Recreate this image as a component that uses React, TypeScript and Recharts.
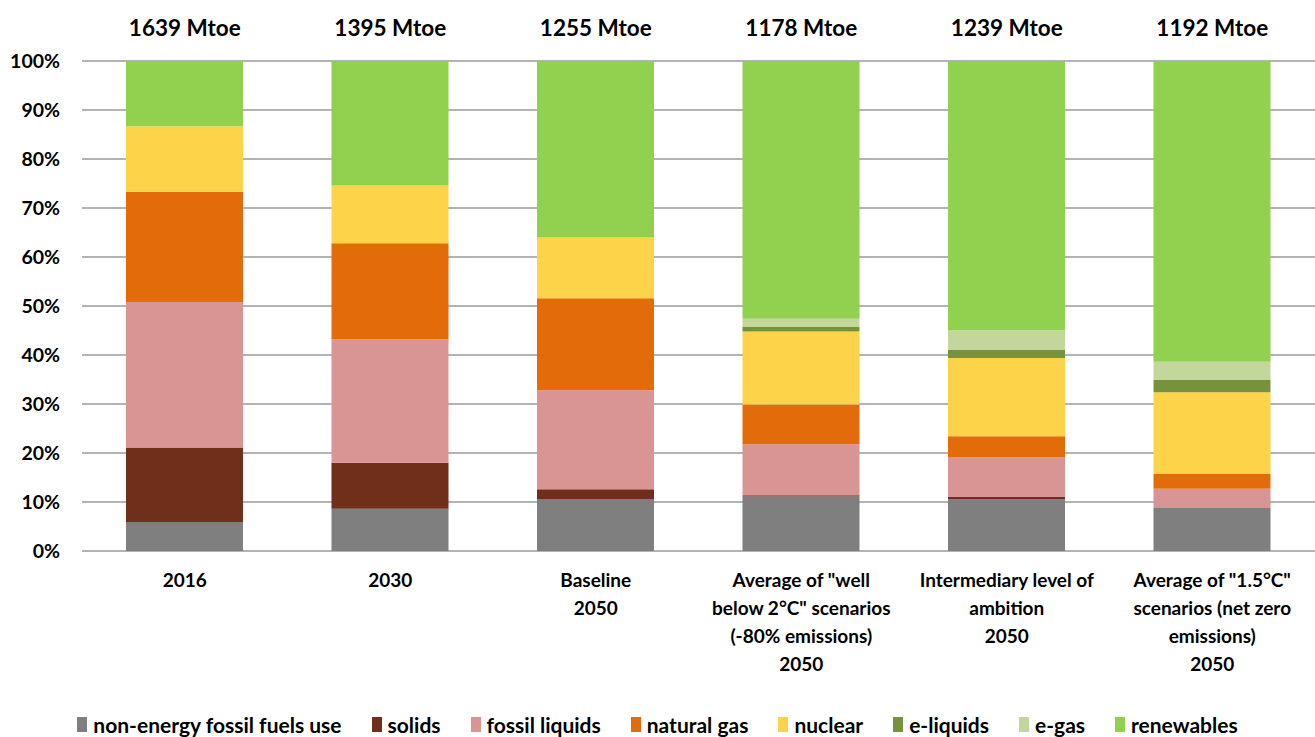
import { BarChart, Bar, XAxis, YAxis, CartesianGrid, Legend } from 'recharts';

const categories = [
  '2016',
  '2030',
  'Baseline\n2050',
  'Average of "well\nbelow 2°C" scenarios\n(-80% emissions)\n2050',
  'Intermediary level of\nambition\n2050',
  'Average of "1.5°C"\nscenarios (net zero\nemissions)\n2050',
];
const totals = [1639, 1395, 1255, 1178, 1239, 1192];

const nonEnergy = [5.9, 8.6, 10.6, 11.1, 10.6, 8.8];
const solids = [15.2, 9.4, 2.0, 0.3, 0.4, 0];
const fossilLiquids = [29.7, 25.2, 20.2, 10.4, 8.1, 3.9];
const naturalGas = [22.5, 19.6, 18.8, 8.1, 4.3, 3.0];
const nuclear = [13.4, 11.8, 12.4, 14.9, 16.0, 16.7];
const eLiquids = [0, 0, 0, 0.9, 1.6, 2.5];
const eGas = [0, 0, 0, 1.7, 4.1, 3.7];
const renewables = [13.3, 25.4, 36.0, 52.6, 54.9, 61.4];

const yTicks = [0, 10, 20, 30, 40, 50, 60, 70, 80, 90, 100];

const series = [
  { key: 'nonEnergy', name: 'non-energy fossil fuels use', color: '#7f7f7f' },
  { key: 'solids', name: 'solids', color: '#6f2f1a' },
  { key: 'fossilLiquids', name: 'fossil liquids', color: '#d99594' },
  { key: 'naturalGas', name: 'natural gas', color: '#e36c0a' },
  { key: 'nuclear', name: 'nuclear', color: '#fdd34a' },
  { key: 'eLiquids', name: 'e-liquids', color: '#76923c' },
  { key: 'eGas', name: 'e-gas', color: '#c3d69b' },
  { key: 'renewables', name: 'renewables', color: '#92d050' },
];

const data = categories.map((name, i) => ({
  name,
  total: totals[i],
  nonEnergy: nonEnergy[i],
  solids: solids[i],
  fossilLiquids: fossilLiquids[i],
  naturalGas: naturalGas[i],
  nuclear: nuclear[i],
  eLiquids: eLiquids[i],
  eGas: eGas[i],
  renewables: renewables[i],
}));

const FONT = 'Lato, "Open Sans", sans-serif';

const BottomTick = ({ x, y, payload }: any) => {
  const lines = String(payload.value).split('\n');
  return (
    <text x={x} y={y} textAnchor="middle" fontFamily={FONT} fontWeight="bold" fontSize={19} fill="#000">
      {lines.map((l, i) => (
        <tspan key={i} x={x} dy={i === 0 ? 36 : 28}>
          {l}
        </tspan>
      ))}
    </text>
  );
};

const TopTick = ({ x, y, index }: any) => (
  <text x={x} y={y} dy={-25} textAnchor="middle" fontFamily={FONT} fontWeight="bold" fontSize={22.5} fill="#000">
    {`${totals[index]} Mtoe`}
  </text>
);

const renderLegend = () => (
  <div
    style={{
      height: 26,
      display: 'flex',
      justifyContent: 'center',
      alignItems: 'center',
      fontFamily: FONT,
      fontWeight: 'bold',
      fontSize: 21,
      color: '#000',
      whiteSpace: 'nowrap',
    }}
  >
    {series.map((s, i) => (
      <div key={s.key} style={{ display: 'flex', alignItems: 'center', marginRight: i === series.length - 1 ? 0 : 30 }}>
        <span style={{ width: 10, height: 15, background: s.color, marginRight: 6, display: 'inline-block' }} />
        <span>{s.name}</span>
      </div>
    ))}
  </div>
);

export default function App() {
  return (
    <div style={{ position: 'absolute', left: 0, top: 0, width: 1315, height: 737, background: '#fff', overflow: 'hidden' }}>
      <BarChart width={1315} height={737} data={data} margin={{ top: 0, right: 0, bottom: 0, left: 0 }} barSize={117}>
        <CartesianGrid vertical={false} stroke="#9a9a9a" strokeWidth={1.5} />
        <XAxis
          dataKey="name"
          interval={0}
          height={160}
          tickLine={false}
          axisLine={false}
          tickSize={0}
          tickMargin={0}
          tick={<BottomTick />}
        />
        <XAxis
          xAxisId="top"
          dataKey="name"
          orientation="top"
          interval={0}
          height={61}
          tickLine={false}
          axisLine={false}
          tickSize={0}
          tickMargin={0}
          tick={<TopTick />}
        />
        <YAxis
          domain={[0, 100]}
          ticks={yTicks}
          width={82}
          tickLine={false}
          axisLine={false}
          tickSize={0}
          tickMargin={22}
          tickFormatter={(v) => `${v}%`}
          tick={{ fontFamily: FONT, fontWeight: 'bold', fontSize: 19.5, fill: '#000' }}
        />
        <Legend verticalAlign="bottom" content={renderLegend} />
        {series.map((s) => (
          <Bar key={s.key} dataKey={s.key} name={s.name} stackId="a" fill={s.color} isAnimationActive={false} />
        ))}
      </BarChart>
    </div>
  );
}
